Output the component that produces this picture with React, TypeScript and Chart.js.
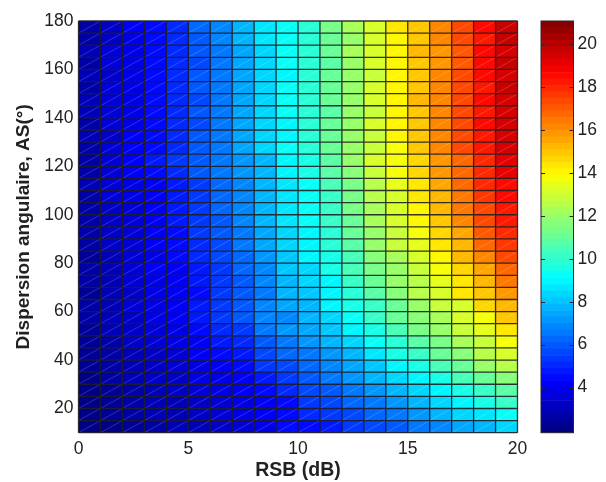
import React, { useEffect, useRef } from "react";
import { Chart, registerables } from "chart.js";

Chart.register(...registerables);

const rsbEdges = [0, 1, 2, 3, 4, 5, 6, 7, 8, 9, 10, 11, 12, 13, 14, 15, 16, 17, 18, 19];
// lower edge of each row, from the top row down
const asEdges = [175, 170, 165, 160, 155, 150, 145, 140, 135, 130, 125, 120, 115, 110, 105, 100, 95, 90, 85, 80, 75, 70, 65, 60, 55, 50, 45, 40, 35, 30, 25, 20, 15, 10];
const xTickValues = [0, 5, 10, 15, 20];
const yTickValues = [20, 40, 60, 80, 100, 120, 140, 160, 180];
const barTickValues = [4, 6, 8, 10, 12, 14, 16, 18, 20];
const colorMin = 1.9;
const colorMax = 21.07;

const zRows = [
  [2.6, 3.2, 4.0, 4.5, 5.0, 6.1, 6.7, 7.6, 8.6, 9.1, 9.8, 11.2, 12.2, 13.2, 14.3, 15.0, 16.0, 17.2, 18.4, 19.7],
  [2.7, 3.3, 3.9, 4.5, 5.1, 5.9, 6.8, 7.7, 8.5, 9.2, 9.9, 10.9, 12.0, 13.1, 14.0, 15.0, 16.0, 17.2, 18.3, 19.6],
  [2.8, 3.4, 3.9, 4.4, 5.0, 5.8, 6.6, 7.5, 8.3, 9.1, 9.8, 11.0, 12.1, 13.0, 14.0, 15.2, 15.9, 17.0, 18.4, 19.5],
  [2.7, 3.4, 3.9, 4.4, 5.0, 5.7, 6.6, 7.5, 8.3, 9.1, 9.7, 10.8, 11.9, 13.0, 13.9, 15.0, 15.9, 17.1, 18.4, 19.7],
  [2.8, 3.3, 3.8, 4.5, 5.1, 5.8, 6.6, 7.4, 8.2, 9.0, 9.8, 10.9, 11.8, 12.9, 14.0, 15.0, 16.0, 17.2, 18.4, 19.5],
  [2.7, 3.4, 3.9, 4.5, 5.0, 5.8, 6.6, 7.4, 8.2, 9.2, 9.9, 11.0, 12.0, 13.0, 14.0, 15.0, 16.0, 17.3, 18.3, 19.7],
  [2.8, 3.5, 3.9, 4.4, 5.1, 5.7, 6.5, 7.4, 8.3, 9.1, 9.8, 10.9, 11.9, 13.0, 14.1, 15.1, 16.0, 17.2, 18.4, 19.5],
  [2.8, 3.4, 3.9, 4.5, 5.0, 5.8, 6.5, 7.4, 8.3, 9.1, 9.8, 10.8, 11.8, 12.9, 14.1, 14.9, 16.1, 17.3, 18.3, 19.5],
  [2.7, 3.4, 3.9, 4.4, 5.1, 5.7, 6.5, 7.3, 8.2, 9.0, 9.7, 10.9, 11.9, 13.0, 14.0, 15.0, 16.0, 17.3, 18.4, 19.5],
  [2.8, 3.3, 4.0, 4.5, 5.0, 5.8, 6.5, 7.5, 8.2, 9.0, 9.8, 11.0, 11.8, 12.9, 14.0, 14.8, 16.1, 17.2, 18.2, 19.4],
  [2.7, 3.5, 4.0, 4.4, 5.1, 5.8, 6.6, 7.5, 8.3, 9.1, 9.9, 10.9, 11.9, 12.8, 13.7, 14.8, 16.0, 17.2, 18.1, 19.3],
  [2.5, 3.4, 4.0, 4.6, 5.2, 5.8, 6.4, 7.1, 7.8, 8.8, 9.6, 10.7, 11.8, 13.0, 13.6, 14.6, 15.8, 16.7, 18.0, 19.2],
  [2.7, 3.6, 4.0, 4.3, 5.0, 5.8, 6.4, 7.0, 7.8, 8.8, 9.6, 10.6, 11.6, 12.8, 13.6, 14.7, 15.7, 16.8, 17.9, 19.1],
  [2.8, 3.5, 3.8, 4.0, 4.8, 5.4, 6.1, 6.9, 7.6, 8.6, 9.3, 10.3, 11.4, 12.6, 13.4, 14.3, 15.5, 16.6, 17.8, 18.4],
  [2.7, 3.4, 3.7, 4.0, 4.7, 5.4, 6.1, 6.8, 7.6, 8.6, 9.2, 10.2, 11.3, 12.4, 13.2, 14.3, 15.2, 16.5, 17.6, 18.4],
  [2.6, 3.2, 3.6, 4.0, 4.7, 5.4, 6.1, 6.7, 7.6, 8.6, 9.2, 10.1, 11.2, 12.3, 13.1, 14.1, 15.2, 16.4, 17.4, 18.3],
  [2.7, 3.3, 3.6, 4.0, 4.6, 5.4, 5.9, 6.7, 7.6, 8.7, 9.2, 10.1, 11.1, 12.3, 13.0, 13.9, 14.9, 16.0, 17.2, 18.2],
  [2.6, 3.1, 3.5, 4.0, 4.5, 5.2, 5.9, 6.6, 7.5, 8.4, 9.0, 9.9, 11.0, 12.0, 12.9, 13.6, 14.7, 15.6, 17.0, 17.8],
  [2.6, 3.2, 3.6, 4.0, 4.4, 5.1, 5.7, 6.4, 7.3, 8.2, 8.9, 9.7, 10.7, 11.8, 12.7, 13.3, 14.4, 15.3, 16.6, 17.6],
  [2.4, 3.0, 3.4, 3.9, 4.3, 4.9, 5.5, 6.3, 7.1, 8.0, 8.8, 9.6, 10.4, 11.5, 12.3, 13.1, 14.0, 15.1, 16.2, 17.2],
  [2.5, 3.0, 3.4, 4.0, 4.2, 4.7, 5.4, 6.1, 6.9, 7.9, 8.3, 9.4, 10.3, 11.2, 12.0, 12.9, 13.7, 14.7, 15.6, 16.8],
  [2.5, 2.9, 3.4, 3.8, 4.1, 4.6, 5.2, 5.9, 6.7, 7.7, 8.2, 9.0, 10.2, 11.0, 11.9, 12.6, 13.3, 14.3, 15.3, 16.3],
  [2.4, 2.9, 3.3, 3.7, 4.0, 4.5, 5.2, 5.8, 6.5, 7.6, 8.1, 9.0, 9.8, 10.8, 11.5, 12.4, 13.2, 14.2, 15.0, 15.8],
  [2.5, 3.0, 3.4, 3.7, 4.0, 4.8, 5.4, 5.9, 6.9, 7.4, 7.8, 8.9, 9.6, 10.2, 11.0, 12.0, 12.8, 13.2, 14.5, 15.2],
  [2.5, 2.9, 3.3, 3.7, 4.0, 4.6, 5.2, 5.8, 6.7, 6.9, 7.6, 8.4, 9.2, 10.0, 10.9, 11.6, 12.3, 13.0, 13.8, 14.9],
  [2.4, 2.8, 3.2, 3.6, 3.9, 4.4, 5.0, 5.4, 6.4, 7.0, 7.4, 8.0, 8.8, 9.6, 10.4, 11.2, 12.0, 12.8, 13.3, 14.4],
  [2.3, 2.7, 3.1, 3.5, 3.9, 4.1, 4.6, 5.1, 6.0, 6.6, 7.0, 7.6, 8.3, 9.1, 9.8, 10.6, 11.4, 12.2, 12.8, 13.6],
  [2.2, 2.7, 3.0, 3.3, 3.6, 4.0, 4.4, 4.8, 5.7, 6.2, 6.6, 7.2, 7.8, 8.7, 9.4, 10.1, 10.9, 11.6, 12.4, 13.0],
  [2.2, 2.6, 2.9, 3.3, 3.5, 3.8, 4.1, 4.5, 5.2, 5.6, 6.2, 6.8, 7.4, 8.0, 8.8, 9.6, 10.3, 11.0, 11.8, 12.4],
  [2.1, 2.5, 2.8, 3.2, 3.3, 3.7, 3.9, 4.2, 4.8, 5.4, 5.9, 6.4, 7.0, 7.6, 8.2, 8.8, 9.6, 10.3, 10.9, 11.5],
  [2.0, 2.4, 2.7, 3.0, 3.2, 3.5, 3.8, 4.0, 4.4, 5.0, 5.6, 6.0, 6.5, 7.0, 7.6, 8.2, 8.8, 9.6, 10.2, 10.8],
  [2.0, 2.3, 2.6, 2.9, 3.0, 3.3, 3.6, 3.9, 4.1, 4.5, 5.2, 5.6, 6.1, 6.6, 7.1, 7.7, 8.2, 8.8, 9.4, 10.0],
  [1.9, 2.2, 2.5, 2.8, 2.9, 3.2, 3.4, 3.7, 4.0, 4.3, 4.9, 5.2, 5.6, 6.1, 6.6, 7.1, 7.7, 8.2, 8.7, 9.3],
  [1.9, 2.1, 2.4, 2.6, 2.8, 3.0, 3.2, 3.5, 3.9, 4.3, 4.5, 4.8, 5.2, 5.6, 6.0, 6.4, 6.9, 7.4, 7.8, 8.2],
];

const LEVELS = 64;

function jetColor(v: number): string {
  const idx = Math.min(LEVELS - 1, Math.max(0, Math.floor(((v - colorMin) / (colorMax - colorMin)) * LEVELS)));
  const t = (idx + 0.5) / LEVELS;
  const ramp = (c: number) => Math.round(255 * Math.max(0, Math.min(1, 1.5 - Math.abs(4 * t - c))));
  return `rgb(${ramp(3)},${ramp(2)},${ramp(1)})`;
}

const TEXT = "#222222";
const FONT = "'Liberation Sans', Arial, sans-serif";

// Cell diagonals and mesh lines, positioned through the chart's bars and scales.
const meshPlugin = {
  id: "cellMesh",
  afterDatasetsDraw(chart: any) {
    const { ctx, chartArea, scales } = chart;
    const { left, right, top, bottom } = chartArea;
    ctx.save();
    ctx.strokeStyle = "rgba(255,255,255,0.26)";
    ctx.lineWidth = 0.7;
    chart.getSortedVisibleDatasetMetas().forEach((meta: any) => {
      meta.data.forEach((bar: any) => {
        const { x, y, base, width } = bar.getProps(["x", "y", "base", "width"], true);
        ctx.beginPath();
        ctx.moveTo(x - width / 2, Math.max(y, base));
        ctx.lineTo(x + width / 2, Math.min(y, base));
        ctx.stroke();
      });
    });
    ctx.strokeStyle = "rgba(30,30,36,0.9)";
    ctx.lineWidth = 1.3;
    ctx.beginPath();
    [...rsbEdges, rsbEdges[rsbEdges.length - 1] + 1].forEach((v) => {
      const px = scales.x.getPixelForValue(v);
      ctx.moveTo(px, top);
      ctx.lineTo(px, bottom);
    });
    [asEdges[0] + 5, ...asEdges].forEach((v) => {
      const py = scales.y.getPixelForValue(v);
      ctx.moveTo(left, py);
      ctx.lineTo(right, py);
    });
    ctx.stroke();
    ctx.restore();
  },
};

const colorbarFramePlugin = {
  id: "colorbarFrame",
  afterDatasetsDraw(chart: any) {
    const { ctx, chartArea } = chart;
    const { left, right, top, bottom } = chartArea;
    ctx.save();
    ctx.strokeStyle = "#26262e";
    ctx.lineWidth = 1;
    ctx.strokeRect(left, top, right - left, bottom - top);
    barTickValues.forEach((v) => {
      const py = Math.round(chart.scales.y.getPixelForValue(v)) + 0.5;
      ctx.beginPath();
      ctx.moveTo(left, py);
      ctx.lineTo(left + 4, py);
      ctx.moveTo(right, py);
      ctx.lineTo(right - 4, py);
      ctx.stroke();
    });
    ctx.restore();
  },
};

export default function App() {
  const mainRef = useRef<HTMLCanvasElement>(null);
  const barRef = useRef<HTMLCanvasElement>(null);

  useEffect(() => {
    const datasets = rsbEdges.map((rsb, col) => ({
      label: `RSB ${rsb}`,
      data: asEdges.map((as) => ({ x: rsb + 0.5, y: [as, as + 5] })),
      backgroundColor: zRows.map((row) => jetColor(row[col])),
      borderWidth: 0,
      grouped: false,
      barPercentage: 1,
      categoryPercentage: 1,
    }));

    const main = new Chart(mainRef.current!, {
      type: "bar",
      data: { datasets } as any,
      plugins: [meshPlugin],
      options: {
        animation: false,
        responsive: false,
        layout: { padding: { top: 21, right: 88.5, left: 0, bottom: 0 } },
        plugins: { legend: { display: false }, tooltip: { enabled: false } },
        scales: {
          x: {
            type: "linear",
            min: 0,
            max: 20,
            offset: false,
            afterFit: (s: any) => { s.height = 49.3; },
            afterBuildTicks: (s: any) => { s.ticks = xTickValues.map((value) => ({ value })); },
            grid: { display: false, offset: false, drawTicks: false, tickLength: 0 },
            border: { display: false },
            ticks: { color: TEXT, font: { family: FONT, size: 17.5 }, padding: 6, maxRotation: 0, autoSkip: false },
            title: { display: true, text: "RSB (dB)", color: TEXT, font: { family: FONT, size: 19.5, weight: "bold" }, padding: { top: 0, bottom: 0 } },
          },
          y: {
            type: "linear",
            min: 10,
            max: 180,
            afterFit: (s: any) => { s.width = 78.5; },
            afterBuildTicks: (s: any) => { s.ticks = yTickValues.map((value) => ({ value })); },
            grid: { display: false, drawTicks: false, tickLength: 0 },
            border: { display: false },
            ticks: { color: TEXT, font: { family: FONT, size: 17.5 }, padding: 5, autoSkip: false },
            title: { display: true, text: "Dispersion angulaire, AS(°)", color: TEXT, font: { family: FONT, size: 19, weight: "bold" }, padding: { top: 12, bottom: 0 } },
          },
        },
      } as any,
    });

    const step = (colorMax - colorMin) / LEVELS;
    const levelStarts = Array.from({ length: LEVELS }, (_, i) => colorMin + i * step);
    const barChart = new Chart(barRef.current!, {
      type: "bar",
      data: {
        labels: ["colour"],
        datasets: levelStarts.map((lo) => ({
          data: [[lo, lo + step]],
          backgroundColor: jetColor(lo + step / 2),
          borderWidth: 0,
          grouped: false,
          barPercentage: 1,
          categoryPercentage: 1,
        })),
      } as any,
      plugins: [colorbarFramePlugin],
      options: {
        animation: false,
        responsive: false,
        layout: { padding: { top: 21, left: 11, right: 0, bottom: 49.3 } },
        plugins: { legend: { display: false }, tooltip: { enabled: false } },
        scales: {
          x: { display: false },
          y: {
            position: "right",
            min: colorMin,
            max: colorMax,
            afterFit: (s: any) => { s.width = 32.5; },
            afterBuildTicks: (s: any) => { s.ticks = barTickValues.map((value) => ({ value })); },
            grid: { display: false, drawTicks: false, tickLength: 0 },
            border: { display: false },
            ticks: { color: TEXT, font: { family: FONT, size: 17.5 }, padding: 4, autoSkip: false },
          },
        },
      } as any,
    });

    return () => {
      main.destroy();
      barChart.destroy();
    };
  }, []);

  return (
    <div style={{ position: "absolute", left: 0, top: 0, width: 606, height: 482, background: "#fff" }}>
      <canvas ref={mainRef} width={606} height={482} style={{ position: "absolute", left: 0, top: 0 }} />
      <canvas ref={barRef} width={76} height={482} style={{ position: "absolute", left: 530, top: 0 }} />
    </div>
  );
}
